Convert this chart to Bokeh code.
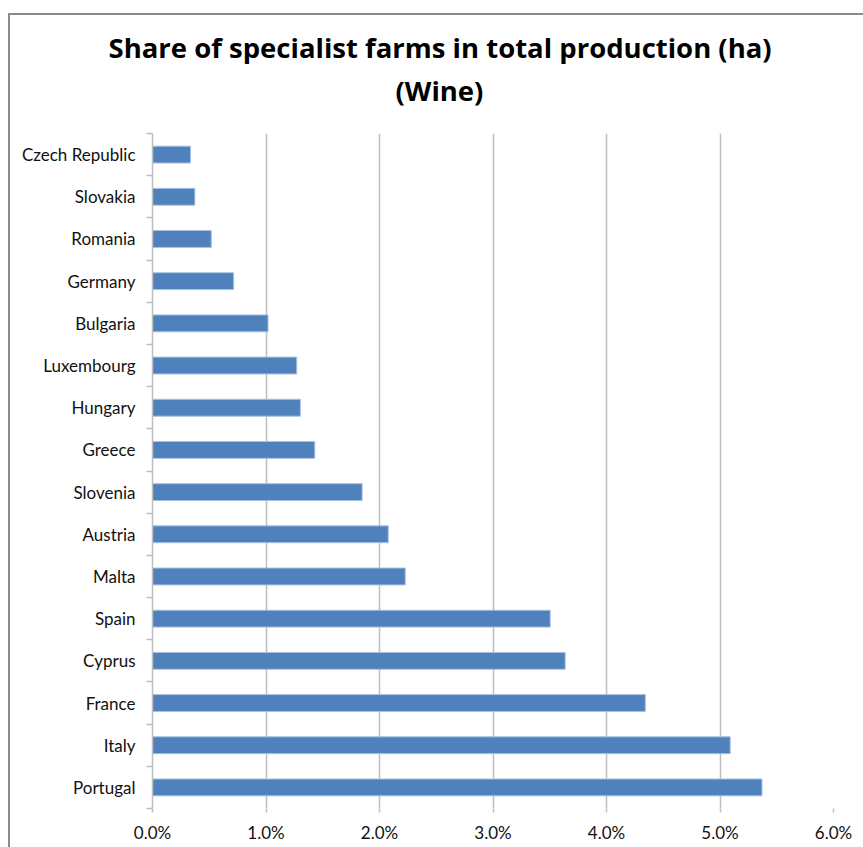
from bokeh.plotting import figure
from bokeh.models import (ColumnDataSource, FixedTicker, PrintfTickFormatter,
                          Range1d, Title)
from bokeh.embed import file_html
from bokeh.resources import INLINE

# ---- data (top to bottom as shown) ----
countries = ["Czech Republic", "Slovakia", "Romania", "Germany", "Bulgaria",
             "Luxembourg", "Hungary", "Greece", "Slovenia", "Austria", "Malta",
             "Spain", "Cyprus", "France", "Italy", "Portugal"]
shares = [0.335, 0.373, 0.518, 0.715, 1.018, 1.271, 1.303, 1.43, 1.847,
          2.077, 2.227, 3.504, 3.636, 4.342, 5.09, 5.37]
x_ticks = [0, 1, 2, 3, 4, 5, 6]
title_line1 = "Share of specialist farms in total production (ha)"
title_line2 = "(Wine)"

n = len(countries)
ypos = [n - i - 0.5 for i in range(n)]
src = ColumnDataSource(dict(country=countries, share=shares, y=ypos))

W, H = 863, 847
FL, FR, FT, FB = 152, 833, 133, 808   # frame edges in pixels
p = figure(width=W, height=H, output_backend="svg", toolbar_location=None,
           x_range=Range1d(0, 6), y_range=Range1d(0, n),
           min_border_left=FL, min_border_right=W - FR,
           min_border_top=FT, min_border_bottom=H - FB)
p.outline_line_color = None
p.background_fill_color = "white"
p.border_fill_alpha = 0
# outer chart border (only its left and top edges fall inside the window)
p.styles = {
    "background": ("linear-gradient(#8C8C8C, #8C8C8C) 8px 13px / 2px 200% no-repeat, "
                   "linear-gradient(#8C8C8C, #8C8C8C) 8px 13px / 200% 2px no-repeat, "
                   "#ffffff"),
}

p.hbar(y="y", right="share", left=0, height=0.4, source=src,
       fill_color="#4F81BD", line_color="#A9C2E0", line_width=1)

GRID = "#BEBEBE"
FONT = "Lato"
TFONT = "Open Sans"

# x axis
xa = p.xaxis[0]
xa.ticker = FixedTicker(ticks=x_ticks)
xa.formatter = PrintfTickFormatter(format="%.1f%%")
xa.axis_line_color = None
xa.major_tick_line_color = GRID
xa.major_tick_line_width = 1.5
xa.major_tick_out = 4
xa.major_tick_in = 0
xa.minor_tick_line_color = None
xa.major_label_standoff = 9
xa.major_label_text_font = FONT
xa.major_label_text_font_size = "17px"
xa.major_label_text_color = "#111111"

# y axis: labels at band centres, ticks at band boundaries
ya = p.yaxis[0]
ya.ticker = FixedTicker(ticks=ypos, minor_ticks=list(range(n + 1)))
ya.major_label_overrides = {y: c for y, c in zip(ypos, countries)}
ya.axis_line_color = GRID
ya.axis_line_width = 1.5
ya.major_tick_line_color = None
ya.major_tick_out = 6
ya.minor_tick_line_color = GRID
ya.minor_tick_line_width = 1.5
ya.minor_tick_out = 6
ya.minor_tick_in = 0
ya.major_label_standoff = 11
ya.major_label_text_font = FONT
ya.major_label_text_font_size = "17px"
ya.major_label_text_color = "#111111"

p.ygrid.grid_line_color = None
p.xgrid.ticker = FixedTicker(ticks=x_ticks)
p.xgrid.grid_line_color = GRID
p.xgrid.grid_line_width = 1.5

# title: two lines, stacked above a spacer (first added = closest to frame)
p.add_layout(Title(text=" ", text_font_size="10px", standoff=8.5), "above")
p.add_layout(Title(text=title_line2, align="left", offset=243, standoff=6,
                   text_font=TFONT, text_font_style="bold",
                   text_font_size="27.5px", text_color="#000000"), "above")
p.add_layout(Title(text=title_line1, align="left", offset=-44, standoff=2,
                   text_font=TFONT, text_font_style="bold",
                   text_font_size="27.5px", text_color="#000000"), "above")

open("out.html", "w").write(file_html(p, INLINE))
